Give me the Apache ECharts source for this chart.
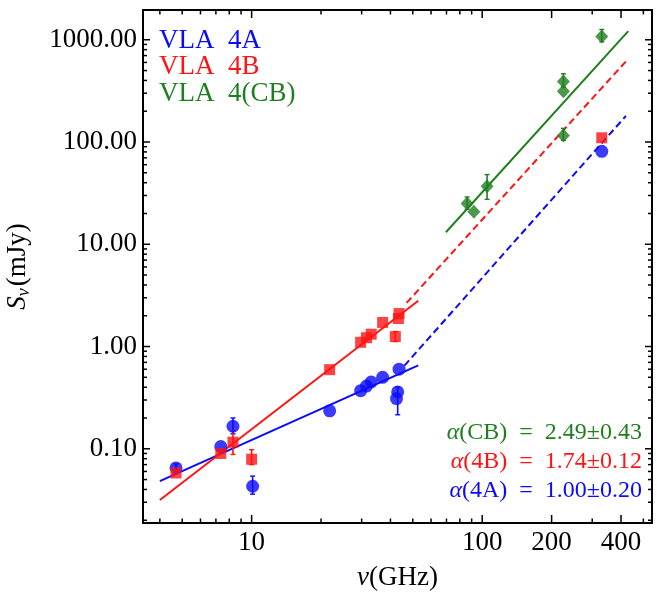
<!DOCTYPE html>
<html><head><meta charset="utf-8">
<script src="https://cdn.jsdelivr.net/npm/echarts@6/dist/echarts.min.js"></script>
<style>html,body{margin:0;padding:0;background:#fff}#c{width:657px;height:599px}</style>
</head><body><div id="c"></div>
<script>
const FONT = '"Liberation Serif","Times New Roman",serif';
const BLUE = '#0a0aff', RED = '#ff1414', GREEN = '#1f7f1f';

// axis ticks / labels
const xLabelValues = [10, 100, 200, 400];
const xMajorTicks = [10, 100, 200, 400];
const xMinorTicks = [4, 5, 6, 7, 8, 9, 20, 30, 40, 50, 60, 70, 80, 90, 300, 500];
const yMajorTicks = [0.1, 1, 10, 100, 1000];
const yMinorTicks = [0.02,0.03,0.04,0.05,0.06,0.07,0.08,0.09,0.2,0.3,0.4,0.5,0.6,0.7,0.8,0.9,2,3,4,5,6,7,8,9,20,30,40,50,60,70,80,90,200,300,400,500,600,700,800,900];

// data: [frequency GHz, flux mJy]
const pointsA = [[4.7,0.065],[7.35,0.105],[8.3,0.166],[10.1,0.043],[21.8,0.235],[29.7,0.37],[31.5,0.41],[33,0.45],[37,0.50],[43.6,0.60],[43,0.36],[42.5,0.31],[330,81]];
const pointsB = [[4.7,0.058],[7.35,0.090],[8.3,0.116],[10.0,0.079],[21.8,0.594],[29.7,1.10],[31.5,1.22],[33,1.32],[37,1.72],[43.3,1.88],[43.6,2.1],[42,1.25],[330,110]];
const pointsCB = [[86,25],[92,20.8],[105,37],[225,391],[225,313],[225,116],[330,1077]];

// error bars: [frequency, low, high]
const errA = [[4.7,0.059,0.071],[8.3,0.14,0.20],[10.1,0.036,0.054],[43,0.215,0.40]];
const errB = [[8.3,0.088,0.149],[10.0,0.070,0.098],[42,1.12,1.40]];
const errCB = [[86,22,29],[105,27.5,48],[225,345,465],[225,104,136],[330,955,1260]];

// power-law fits
const fitA = [[4.0,0.0483],[52.8,0.655]];
const fitAext = [[46,0.65],[420,180]];
const fitB = [[4.0,0.0316],[52.8,2.8]];
const fitBext = [[47,2.67],[420,614]];
const fitCB = [[69.6,13.1],[430,1213]];

const legendLabels = ['VLA  4A', 'VLA  4B', 'VLA  4(CB)'];
const alphaLabels = ['(CB)  =  2.49±0.43', '(4B)  =  1.74±0.12', '(4A)  =  1.00±0.20'];

const chart = echarts.init(document.getElementById('c'), null, {renderer: 'canvas'});

function tickX(vals, len) {
  return {type:'custom', coordinateSystem:'cartesian2d', silent:true, clip:false, z:10,
    data: vals.map(v => [v, 1]),
    renderItem: (params, api) => {
      const cs = params.coordSys;
      const x = api.coord([api.value(0), 1])[0];
      const b = cs.y + cs.height, t = cs.y;
      return {type:'group', children:[
        {type:'line', shape:{x1:x,y1:b,x2:x,y2:b-len}, style:{stroke:'#000', lineWidth:1.5}},
        {type:'line', shape:{x1:x,y1:t,x2:x,y2:t+len}, style:{stroke:'#000', lineWidth:1.5}}
      ]};
    }};
}
function tickY(vals, len) {
  return {type:'custom', coordinateSystem:'cartesian2d', silent:true, clip:false, z:10,
    data: vals.map(v => [10, v]),
    renderItem: (params, api) => {
      const cs = params.coordSys;
      const y = api.coord([10, api.value(1)])[1];
      const l = cs.x, r = cs.x + cs.width;
      return {type:'group', children:[
        {type:'line', shape:{x1:l,y1:y,x2:l+len,y2:y}, style:{stroke:'#000', lineWidth:1.5}},
        {type:'line', shape:{x1:r,y1:y,x2:r-len,y2:y}, style:{stroke:'#000', lineWidth:1.5}}
      ]};
    }};
}
function errSeries(arr, color) {
  return {type:'custom', coordinateSystem:'cartesian2d', silent:true, z:3,
    data: arr,
    encode: {x:0, y:[1,2]},
    renderItem: (params, api) => {
      const lo = api.coord([api.value(0), api.value(1)]);
      const hi = api.coord([api.value(0), api.value(2)]);
      const w = 2.5;
      return {type:'group', children:[
        {type:'line', shape:{x1:lo[0],y1:lo[1],x2:hi[0],y2:hi[1]}, style:{stroke:color, lineWidth:1.6}},
        {type:'line', shape:{x1:lo[0]-w,y1:lo[1],x2:lo[0]+w,y2:lo[1]}, style:{stroke:color, lineWidth:1.4}},
        {type:'line', shape:{x1:hi[0]-w,y1:hi[1],x2:hi[0]+w,y2:hi[1]}, style:{stroke:color, lineWidth:1.4}}
      ]};
    }};
}
function lineSeries(d, color, dashed) {
  return {type:'line', data:d, showSymbol:false, silent:true, z:2, animation:false,
    lineStyle:{color, width:2, type: dashed ? [7,4] : 'solid'}};
}

const option = {
  animation: false,
  backgroundColor: '#fff',
  grid: {left:143, right:5, top:10, bottom:76, containLabel:false, outerBoundsMode:'none',
    show:true, borderColor:'#000', borderWidth:2, backgroundColor:'transparent'},
  xAxis: {type:'log', logBase:10, min:3.38, max:545,
    axisLine:{show:false}, axisTick:{show:false}, axisLabel:{show:false}, splitLine:{show:false},
    name:'{i|ν}(GHz)', nameLocation:'middle', nameGap:41,
    nameTextStyle:{fontFamily:FONT, fontSize:27, color:'#000', rich:{i:{fontFamily:FONT, fontSize:27, fontStyle:'italic', color:'#000'}}}},
  yAxis: {type:'log', logBase:10, min:0.0188, max:1954,
    axisLine:{show:false}, axisTick:{show:false}, axisLabel:{show:false}, splitLine:{show:false},
    name:'{i|S}{sub|ν}(mJy)', nameLocation:'middle', nameGap:110, nameRotate:90,
    nameTextStyle:{fontFamily:FONT, fontSize:27, color:'#000',
      rich:{i:{fontFamily:FONT, fontSize:27, fontStyle:'italic', color:'#000'},
            sub:{fontFamily:FONT, fontSize:18, fontStyle:'italic', color:'#000', padding:[12,2,0,0]}}}},
  series: [
    lineSeries(fitA, BLUE, false),
    lineSeries(fitAext, BLUE, true),
    lineSeries(fitB, RED, false),
    lineSeries(fitBext, RED, true),
    lineSeries(fitCB, GREEN, false),
    errSeries(errA, BLUE),
    errSeries(errB, RED),
    errSeries(errCB, GREEN),
    {type:'scatter', data:pointsA, symbol:'circle', symbolSize:13, itemStyle:{color:BLUE}, z:4},
    {type:'scatter', data:pointsB, symbol:'rect', symbolSize:11, itemStyle:{color:RED}, z:5},
    {type:'scatter', data:pointsCB, symbol:'diamond', symbolSize:[13,14], itemStyle:{color:GREEN}, z:5},
    tickX(xMajorTicks, 8),
    tickX(xMinorTicks, 4.5),
    tickY(yMajorTicks, 7),
    tickY(yMinorTicks, 4),
    {type:'custom', coordinateSystem:'cartesian2d', silent:true, clip:false, z:10,
      data: xLabelValues.map(v => [v, 1]),
      renderItem: (params, api) => {
        const cs = params.coordSys;
        const x = api.coord([api.value(0), 1])[0];
        return {type:'text', style:{text:String(api.value(0)), x:x, y:cs.y+cs.height+20, align:'center', verticalAlign:'middle', font:'27px '+FONT, fill:'#000'}};
      }},
    {type:'custom', coordinateSystem:'cartesian2d', silent:true, clip:false, z:10,
      data: yMajorTicks.map(v => [10, v]),
      renderItem: (params, api) => {
        const cs = params.coordSys;
        const y = api.coord([10, api.value(1)])[1];
        return {type:'text', style:{text:Number(api.value(1)).toFixed(2), x:cs.x-6, y:y, align:'right', verticalAlign:'middle', font:'27px '+FONT, fill:'#000'}};
      }}
  ],
  graphic: [
    {type:'text', left:159, top:27, style:{text:legendLabels[0], font:'27px '+FONT, fill:BLUE}},
    {type:'text', left:159, top:53, style:{text:legendLabels[1], font:'27px '+FONT, fill:RED}},
    {type:'text', left:159, top:80, style:{text:legendLabels[2], font:'27px '+FONT, fill:GREEN}},
    {type:'text', right:15, top:421, style:{text:'{a|α}'+alphaLabels[0], font:'24px '+FONT, fill:GREEN, rich:{a:{font:'italic 24px '+FONT, fill:GREEN}}}},
    {type:'text', right:15, top:450, style:{text:'{a|α}'+alphaLabels[1], font:'24px '+FONT, fill:RED, rich:{a:{font:'italic 24px '+FONT, fill:RED}}}},
    {type:'text', right:15, top:479, style:{text:'{a|α}'+alphaLabels[2], font:'24px '+FONT, fill:BLUE, rich:{a:{font:'italic 24px '+FONT, fill:BLUE}}}}
  ]
};
chart.setOption(option);
</script>
</body></html>
